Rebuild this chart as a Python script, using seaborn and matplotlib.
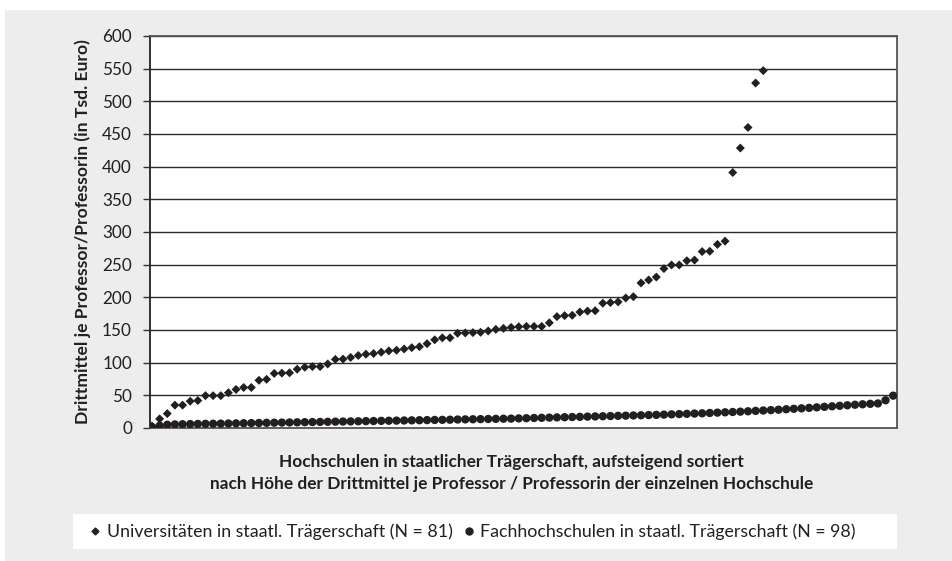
import matplotlib.pyplot as plt
import numpy as np
import pandas as pd
import seaborn as sns
from matplotlib.lines import Line2D
from matplotlib.patches import Rectangle

# values (Tsd. Euro per professor), sorted ascending
uni_values = [
    3, 14, 22, 35, 35, 41, 42, 49.5, 49.5, 49.5,
    54, 59, 62, 62, 73, 74.5, 83.5, 84, 84.5, 90,
    93, 94, 94, 98, 105, 105.5, 108, 111, 113, 114,
    116, 118, 119, 121, 123, 124.5, 129, 135,
    138, 138, 145, 145.5, 146, 146.5, 148.5, 151, 152.5, 154,
    155, 155.5, 155.5, 155.5, 161, 170.5, 172, 172.5, 177.5, 179,
    179.5, 191, 192, 193, 199, 201, 222, 226.5, 231, 244,
    249.5, 249.5, 256, 257, 270, 270.5, 281, 286,
    391, 428.5, 460, 528, 547,
]
fh_values = [
    1.5, 3.5, 5, 5.5, 5.8, 6, 6.2, 6.4, 6.5, 6.7,
    6.9, 7.1, 7.3, 7.5, 7.7, 7.9, 8.1, 8.3, 8.5, 8.7,
    8.9, 9.1, 9.3, 9.5, 9.7, 9.9, 10.1, 10.3, 10.5, 10.7,
    10.9, 11.1, 11.3, 11.5, 11.7, 11.9, 12.1, 12.3, 12.5, 12.7,
    13.0, 13.2, 13.4, 13.6, 13.8, 14.0, 14.2, 14.4, 14.7, 15.0,
    15.3, 15.6, 15.9, 16.2, 16.5, 16.8, 17.1, 17.4, 17.7, 18.0,
    18.3, 18.6, 18.9, 19.2, 19.5, 19.8, 20.1, 20.5, 20.9, 21.3,
    21.7, 22.1, 22.5, 23.0, 23.5, 24.0, 24.5, 25.0, 25.6, 26.2,
    26.8, 27.4, 28.0, 28.7, 29.4, 30.1, 30.8, 31.6, 32.4, 33.2,
    34.0, 34.8, 35.6, 36.3, 37.0, 37.6, 42.5, 49.5,
]
y_ticks = list(range(0, 601, 50))

uni_label = "Universitäten in staatl. Trägerschaft (N = 81)"
fh_label = "Fachhochschulen in staatl. Trägerschaft (N = 98)"
y_label = "Drittmittel je Professor/Professorin (in Tsd. Euro)"
x_label = ("Hochschulen in staatlicher Trägerschaft, aufsteigend sortiert\n"
           "nach Höhe der Drittmittel je Professor / Professorin der einzelnen Hochschule")

sns.set_theme(style="white")
plt.rcParams["font.family"] = ["Lato", "DejaVu Sans"]

ink = "#231f20"
W, H = 952, 561

uni = pd.DataFrame({"rank": np.arange(1, len(uni_values) + 1), "value": uni_values})
fh = pd.DataFrame({"rank": np.arange(1, len(fh_values) + 1), "value": fh_values})

fig = plt.figure(figsize=(W / 100, H / 100), dpi=100, facecolor="white")
# grey page background and white legend strip
fig.patches.append(Rectangle((5 / W, 0), 1, 1 - 10 / H, transform=fig.transFigure,
                             facecolor="#ededed", edgecolor="none", zorder=-10))
fig.patches.append(Rectangle((73 / W, 1 - 549 / H), 824 / W, 35 / H, transform=fig.transFigure,
                             facecolor="white", edgecolor="none", zorder=-9))

ax = fig.add_axes([150 / W, 1 - 428 / H, 747 / W, 392 / H])
ax.set_facecolor("white")
ax.set_axisbelow(True)
ax.yaxis.grid(True, color="#2a2a2a", lw=1)

sns.scatterplot(data=fh, x="rank", y="value", marker="o", s=36, color=ink,
                edgecolor="none", ax=ax, zorder=3)
sns.scatterplot(data=uni, x="rank", y="value", marker="D", s=21, color=ink,
                edgecolor="none", ax=ax, zorder=4)

ax.set_xlim(0.74, 98.5)
ax.set_ylim(0, 600)
ax.set_yticks(y_ticks)
ax.set_xticks([])
ax.tick_params(axis="y", left=True, length=5, width=1, color="#333333",
               labelsize=12.3, pad=8, labelcolor=ink)
for side, sp in ax.spines.items():
    sp.set_color("#222222" if side == "left" else "#555555")
    sp.set_linewidth(1.3)

ax.set_ylabel(y_label, fontsize=12.6, fontweight="bold", color=ink, labelpad=8)
ax.set_xlabel(x_label, fontsize=12.4, fontweight="bold", color=ink, labelpad=19,
              linespacing=1.45)
ax.xaxis.label.set_x(0.484)

handles = [
    Line2D([], [], marker="D", ls="none", color=ink, markersize=3.5),
    Line2D([], [], marker="o", ls="none", color=ink, markersize=5),
]
fig.legend(handles, [uni_label, fh_label], loc="center left",
           bbox_to_anchor=(74 / W, 1 - 531.5 / H), ncol=2, frameon=False,
           fontsize=12.8, handlelength=0.6, handletextpad=0.35, columnspacing=0.6,
           labelcolor=ink)

fig.savefig("out.png", dpi=100, facecolor=fig.get_facecolor())
